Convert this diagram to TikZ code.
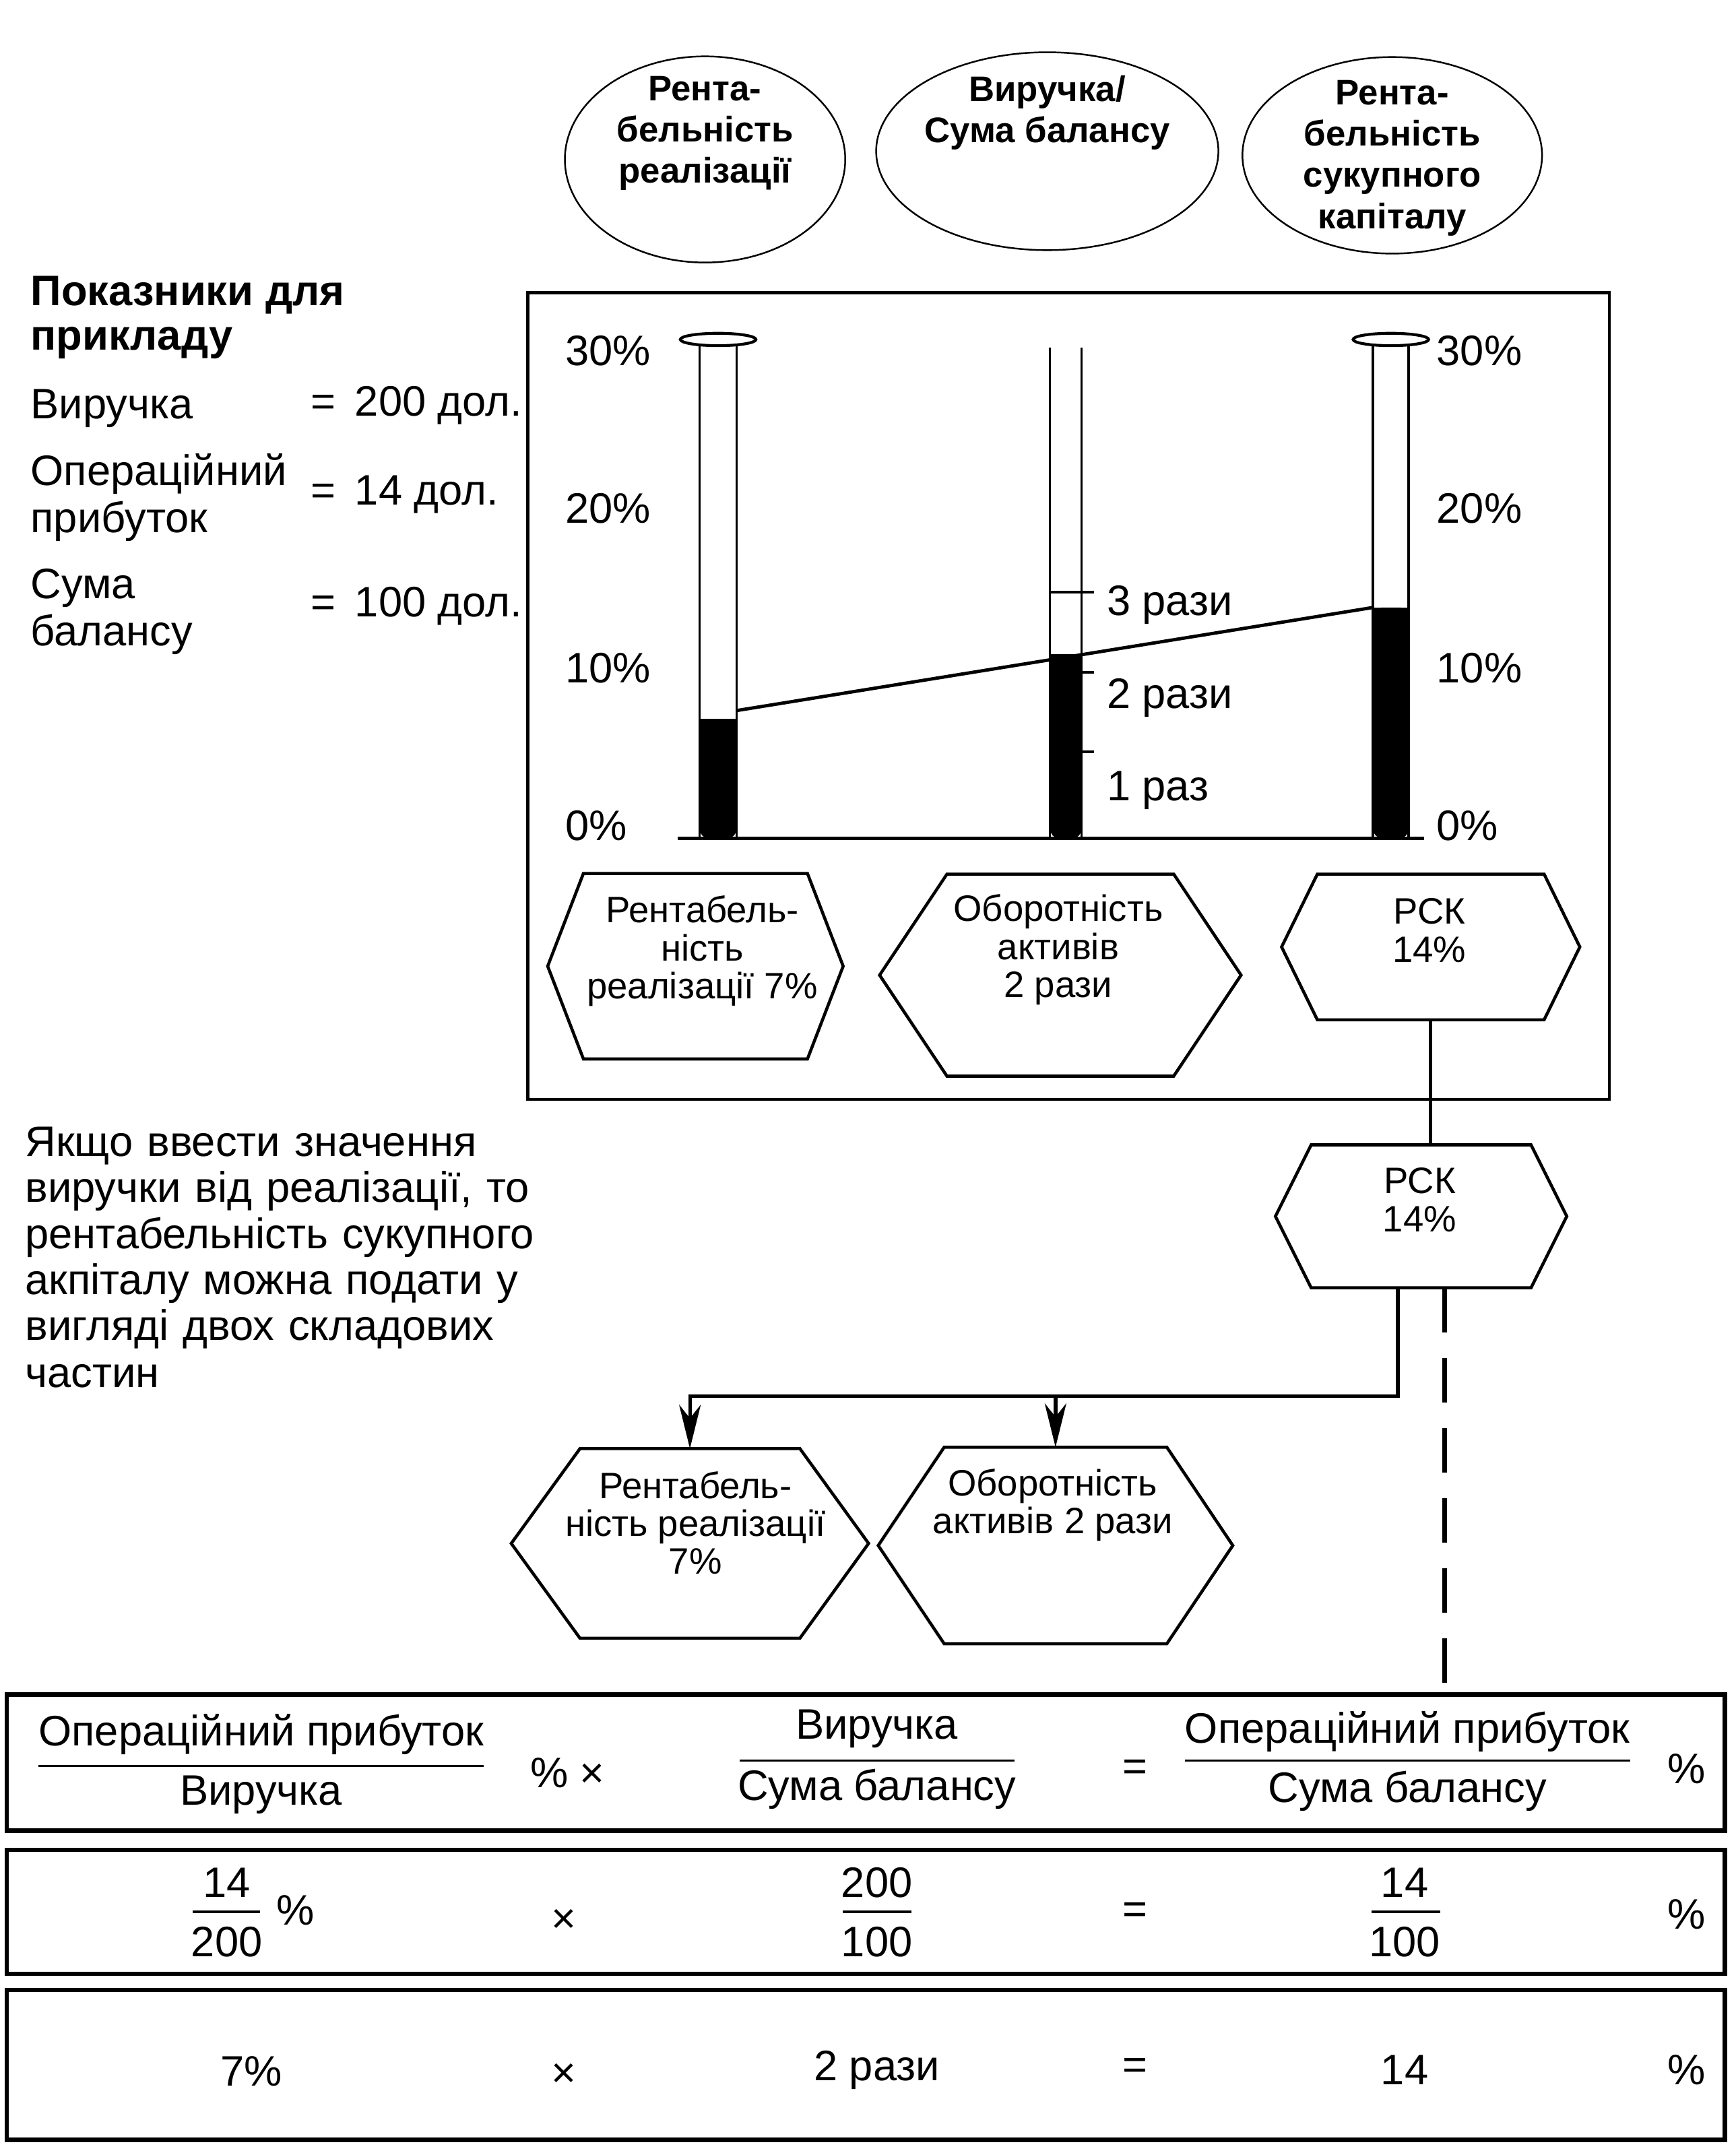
\documentclass[tikz,border=0pt]{standalone}
\usepackage{fontspec}
\setmainfont{Liberation Sans}
\usetikzlibrary{shapes.geometric, arrows.meta, calc}

\newcommand\UU{0.20396mm}
\newcommand\fbody{\fontsize{18}{20}\selectfont}
\newcommand\fhex{\fontsize{15.5}{16}\selectfont}
\newcommand\fell{\bfseries\fontsize{15}{17.4}\selectfont}
\newcommand\flead{\bfseries\fontsize{18}{18.8}\selectfont}
\newcommand\ftab{\fontsize{18}{20}\selectfont}

\tikzset{
 txt/.style={inner sep=0, font=\fbody},
 tabtxt/.style={inner sep=0, font=\ftab},
 hextxt/.style={inner sep=0, font=\fhex, align=center},
 hexcore/.style={inner sep=0, outer sep=0},
 hexline/.style={line width=1.3pt, line join=miter},
 ell/.style={ellipse, draw, line width=0.7pt, inner sep=0, outer sep=0},
 frame/.style={draw, line width=1.3pt, inner sep=0, outer sep=0},
 tbl/.style={draw, line width=1.8pt, inner sep=0, outer sep=0},
 conn/.style={line width=1.5pt},
 tube/.style={line width=1pt},
 fracl/.style={line width=0.9pt},
 arr/.style={-{Stealth[length=6.5mm, width=3.2mm, inset=2mm]}}
}

\newcommand\hexnode[6]{%
 \node[hexcore, minimum width={2*#4*\UU}, minimum height={2*#5*\UU}] (#1) at (#2,#3) {};
 \draw[hexline] (#1.north west) -- (#1.north east) -- ([xshift={#6*\UU}]#1.east) -- (#1.south east) -- (#1.south west) -- ([xshift={-#6*\UU}]#1.west) -- cycle;}

\begin{document}
\begin{tikzpicture}[x=0.20396mm, y=-0.20396mm]
\useasboundingbox (0,0) rectangle (1263,1568);
\fill[white] (0,0) rectangle (1263,1568);

% top ellipses
\node[ell, minimum width=204*\UU, minimum height=150*\UU] (e1) at (513,116) {};
\node[inner sep=0, font=\fell, align=center] (e1t) at (513,97) {Рента-\\бельність\\реалізації};
\node[ell, minimum width=249*\UU, minimum height=144*\UU] (e2) at (762,110) {};
\node[inner sep=0, font=\fell, align=center] (e2t) at (762,82) {Виручка/\\Сума балансу};
\node[ell, minimum width=218*\UU, minimum height=143*\UU] (e3) at (1013,113) {};
\node[inner sep=0, font=\fell, align=center] (e3t) at (1013,115) {Рента-\\бельність\\сукупного\\капіталу};

% left data
\node[inner sep=0, font=\flead, align=left, anchor=west] (hdr) at (22,231) {Показники для\\прикладу};
\node[txt, anchor=west] (l1) at (22,297) {Виручка};
\node[txt, anchor=west] (v1) at (226,295) {=\, 200 дол.};
\node[txt, anchor=west, align=left] (l2) at (22,362) {Операційний\\прибуток};
\node[txt, anchor=west] (v2) at (226,360) {=\, 14 дол.};
\node[txt, anchor=west, align=left] (l3) at (22,445) {Сума\\балансу};
\node[txt, anchor=west] (v3) at (226,441) {=\, 100 дол.};

% main box
\node[frame, minimum width=787*\UU, minimum height=587*\UU, anchor=north west] (box) at (384,213) {};

% percent line
\draw[line width=1.4pt] (536,517) -- (999,442);

% left tube
\fill[rounded corners=4pt] (509,523) rectangle (536,610);
\fill (509,523) rectangle (536,540);
\draw[tube] (509,251) -- (509,610) (536,251) -- (536,610);
\draw[line width=1.2pt] (522.5,247) ellipse [x radius=27.5, y radius=4.5];
% middle tube
\fill[rounded corners=4pt] (764,476) rectangle (787,610);
\fill (764,476) rectangle (787,490);
\draw[tube] (764,253) -- (764,610) (787,253) -- (787,610);
\draw[line width=1.2pt] (764,431) -- (796,431);
\draw[line width=1.2pt] (787,489) -- (796,489);
\draw[line width=1.2pt] (787,547) -- (796,547);
% right tube
\fill[rounded corners=4pt] (999,442) rectangle (1025,610);
\fill (999,442) rectangle (1025,460);
\draw[tube] (999,251) -- (999,610) (1025,251) -- (1025,610);
\draw[line width=1.2pt] (1012,247) ellipse [x radius=27.5, y radius=4.5];
% baseline
\draw[line width=1.6pt] (493,610) -- (1036,610);

% scale labels
\node[txt, anchor=west] (pl30) at (411,255) {30\%};
\node[txt, anchor=west] (pl20) at (411,370) {20\%};
\node[txt, anchor=west] (pl10) at (411,486) {10\%};
\node[txt, anchor=west] (pl0) at (411,601) {0\%};
\node[txt, anchor=west] (pr30) at (1045,255) {30\%};
\node[txt, anchor=west] (pr20) at (1045,370) {20\%};
\node[txt, anchor=west] (pr10) at (1045,486) {10\%};
\node[txt, anchor=west] (pr0) at (1045,601) {0\%};
\node[txt, anchor=west] (m3) at (805,440) {3 рази};
\node[txt, anchor=west] (m2) at (805,508) {2 рази};
\node[txt, anchor=west] (m1) at (805,575) {1 раз};

% hexagons in box
\hexnode{h1}{506}{703}{81.5}{67.5}{26}
\node[hextxt] (h1t) at (511,692) {Рентабель-\\ність\\реалізації 7\%};
\hexnode{h2}{771.5}{709.5}{82.5}{73.5}{49}
\node[hextxt] (h2t) at (770,691) {Оборотність\\активів\\2 рази};
\hexnode{h3}{1041}{689}{82.5}{53}{26}
\node[hextxt] (h3t) at (1040,677) {РСК\\14\%};

% lower hexagons
\hexnode{h4}{1034}{885}{80}{52}{26}
\node[hextxt] (h4t) at (1033,873) {РСК\\14\%};
\hexnode{h5}{502}{1123}{80}{69}{50}
\node[hextxt] (h5t) at (506,1108) {Рентабель-\\ність реалізації\\7\%};
\hexnode{h6}{768}{1124.5}{81}{71.5}{48}
\node[hextxt] (h6t) at (766,1095) {Оборотність\\активів 2 рази};

% paragraph
\node[inner sep=0, font=\fbody, align=left, anchor=west, text width=400*\UU] (para) at (18,915) {%
\fontsize{18}{19.4}\selectfont Якщо ввести значення\\виручки від реалізації, то\\рентабельність сукупного\\акпіталу можна подати у\\вигляді двох складових\\частин};

% tables
\node[tbl, minimum width=1250*\UU, minimum height=99*\UU, anchor=north west] (t1) at (5,1233) {};
\node[tbl, minimum width=1250*\UU, minimum height=90*\UU, anchor=north west] (t2) at (5,1346) {};
\node[tbl, minimum width=1250*\UU, minimum height=109*\UU, anchor=north west] (t3) at (5,1448) {};

% connectors
\coordinate (j) at (1017,1016);
\draw[conn] (h3.south) -- (h3.south |- h4.north);
\draw[conn, arr] (h4.south -| j) -- (j) -| (h5.north);
\draw[conn, arr] (h6.north |- j) -- (h6.north);
\draw[line width=2pt, dash pattern=on 6.6mm off 3.8mm] (h4.south -| 1051,0) -- (t1.north -| 1051,0);

% table 1
\node[tabtxt] (a1) at (190,1262) {Операційний прибуток};
\draw[fracl] (28,1285) -- (352,1285);
\node[tabtxt] (a2) at (190,1306) {Виручка};
\node[tabtxt] (a3) at (413,1290) {\% ×};
\node[tabtxt] (a4) at (638,1258) {Виручка};
\draw[fracl] (538,1281) -- (738,1281);
\node[tabtxt] (a5) at (638,1302) {Сума балансу};
\node[tabtxt] (a6) at (826,1288) {=};
\node[tabtxt] (a7) at (1024,1260) {Операційний прибуток};
\draw[fracl] (862,1281) -- (1186,1281);
\node[tabtxt] (a8) at (1024,1303) {Сума балансу};
\node[tabtxt] (a9) at (1227,1287) {\%};

% table 2
\node[tabtxt] (b1) at (165,1370) {14};
\draw[fracl] (140,1391) -- (189,1391);
\node[tabtxt] (b2) at (165,1413) {200};
\node[tabtxt] (b3) at (215,1390) {\%};
\node[tabtxt] (b4) at (410,1398) {×};
\node[tabtxt] (b5) at (638,1370) {200};
\draw[fracl] (613,1391) -- (663,1391);
\node[tabtxt] (b6) at (638,1413) {100};
\node[tabtxt] (b7) at (826,1392) {=};
\node[tabtxt] (b8) at (1022,1370) {14};
\draw[fracl] (998,1391) -- (1048,1391);
\node[tabtxt] (b9) at (1022,1413) {100};
\node[tabtxt] (b10) at (1227,1393) {\%};

% table 3
\node[tabtxt] (c1) at (183,1507) {7\%};
\node[tabtxt] (c2) at (410,1510) {×};
\node[tabtxt] (c3) at (638,1506) {2 рази};
\node[tabtxt] (c4) at (826,1505) {=};
\node[tabtxt] (c5) at (1022,1506) {14};
\node[tabtxt] (c6) at (1227,1506) {\%};
\end{tikzpicture}
\end{document}
